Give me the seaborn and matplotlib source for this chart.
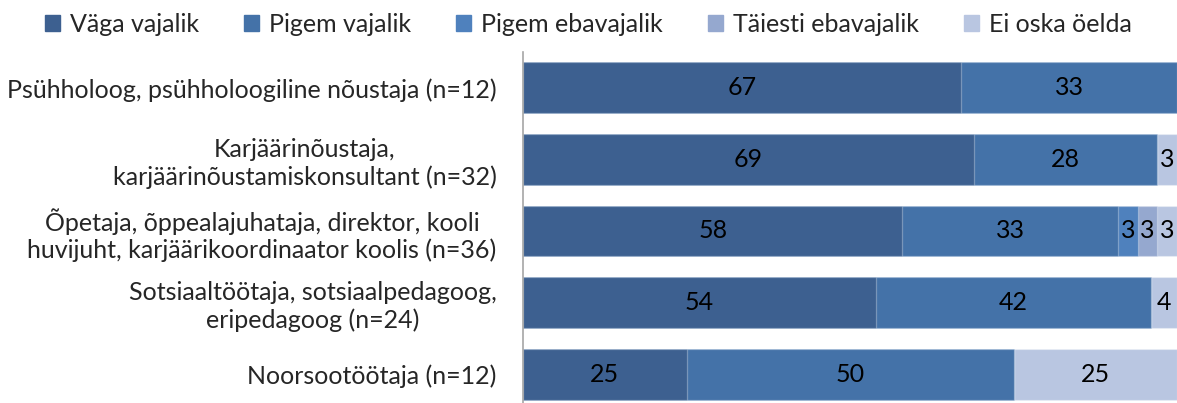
import numpy as np
import pandas as pd
import matplotlib
matplotlib.use("Agg")
import matplotlib.pyplot as plt
import seaborn as sns

categories = [
    "Psühholoog, psühholoogiline nõustaja (n=12)",
    "Karjäärinõustaja,\nkarjäärinõustamiskonsultant (n=32)",
    "Õpetaja, õppealajuhataja, direktor, kooli\nhuvijuht, karjäärikoordinaator koolis (n=36)",
    "Sotsiaaltöötaja, sotsiaalpedagoog,\neripedagoog (n=24)",
    "Noorsootöötaja (n=12)",
]
series_names = ["Väga vajalik", "Pigem vajalik", "Pigem ebavajalik",
                "Täiesti ebavajalik", "Ei oska öelda"]
vaga_vajalik = [67, 69, 58, 54, 25]
pigem_vajalik = [33, 28, 33, 42, 50]
pigem_ebavajalik = [0, 0, 3, 0, 0]
taiesti_ebavajalik = [0, 0, 3, 0, 0]
ei_oska = [0, 3, 3, 4, 25]

colors = ["#3D6090", "#4472A8", "#4F81BD", "#95A8CF", "#B9C6E1"]

sns.set_theme(style="white")
plt.rcParams["font.family"] = ["Lato", "DejaVu Sans"]
FS = 18

values = np.array([vaga_vajalik, pigem_vajalik, pigem_ebavajalik,
                   taiesti_ebavajalik, ei_oska], dtype=float)
cum = np.cumsum(values, axis=0)

fig = plt.figure(figsize=(11.77, 4.03), dpi=100)
ax = fig.add_axes([523 / 1177, 0.0, 1 - 523 / 1177, 1 - 52 / 403])

# stacked bars: draw cumulative totals from the outermost segment inward
for i in range(len(series_names) - 1, -1, -1):
    df = pd.DataFrame({"cat": categories, "val": cum[i]})
    sns.barplot(data=df, x="val", y="cat", orient="h", color=colors[i],
                width=0.71, saturation=1, ax=ax,
                edgecolor=(1, 1, 1, 0.3), linewidth=0.9)

# value labels centred in each segment
for i in range(len(series_names)):
    for j in range(len(categories)):
        v = values[i, j]
        if v > 0:
            xc = cum[i, j] - v / 2
            ax.text(xc, j, f"{int(v)}", ha="center", va="center",
                    fontsize=FS, color="black")

ax.set_xlim(0, 100)
ax.set_ylim(4.5 - 7 / 71.7, -0.5)
ax.set_xlabel("")
ax.set_ylabel("")
ax.set_xticks([])
ax.tick_params(axis="y", length=0, pad=19, labelsize=FS)
for lab in ax.get_yticklabels():
    lab.set_multialignment("center")

for s in ["top", "right", "bottom"]:
    ax.spines[s].set_visible(False)
ax.spines["left"].set_color("#A6A6A6")
ax.spines["left"].set_linewidth(1.2)

handles = [plt.Rectangle((0, 0), 1, 1, color=c) for c in colors]
fig.legend(handles, series_names, loc="upper center", ncol=5,
           bbox_to_anchor=(0.5, 1.0), frameon=False, fontsize=FS,
           handlelength=0.6, handleheight=0.6, handletextpad=0.4,
           columnspacing=1.8, borderaxespad=0.1)

fig.savefig("out.png", dpi=100)
